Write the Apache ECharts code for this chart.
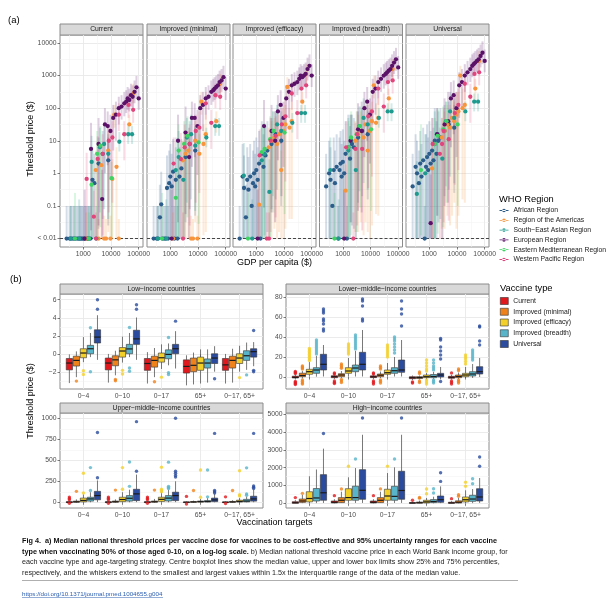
<!DOCTYPE html>
<html>
<head>
<meta charset="utf-8">
<script src="https://cdn.jsdelivr.net/npm/echarts@6/dist/echarts.min.js"></script>
<style>
html, body { margin: 0; padding: 0; background: #fff; }
#chart { width: 611px; height: 608px; }
</style>
</head>
<body>
<div id="chart"></div>
<script>
// ---------- panel (a) data ----------
const regionNames = ['African Region', 'Region of the Americas', 'South\u2212East Asian Region',
  'European Region', 'Eastern Mediterranean Region', 'Western Pacific Region'];
const regionColors = ['#2b5c8a', '#f7943c', '#1f9a8e', '#5a1167', '#3fd364', '#e0457b'];
const vaccineTypes = ['Current', 'Improved (minimal)', 'Improved (efficacy)', 'Improved (breadth)', 'Universal'];

// GDP per capita ($) and WHO region of every country
const countryGdp = [
  250, 320, 360, 420, 470, 520, 600, 680, 760, 830, 910, 1000, 1120, 1260, 1410, 1580, 1820, 2140, 2510, 3550, 5010, 7940,
  1260, 2820, 3550, 4470, 5620, 6610, 7940, 9550, 11200, 13200, 15800, 19100, 45700, 63100,
  355, 710, 1580, 2000, 2950, 3980, 5620, 7940, 20000, 41700, 57500,
  1120, 1900, 3550, 4790, 6030, 7590, 9550, 12000, 15100, 19100, 24000, 30200, 35500, 39800, 45700, 52500, 60300, 70800, 83200, 100000,
  500, 1580, 2000, 3160, 4170, 10500,
  1320, 2400, 2880, 3310, 5010, 8320, 11200, 19100, 30200, 42700, 63100
];
const countryRegion = [
  0, 0, 0, 0, 0, 0, 0, 0, 0, 0, 0, 0, 0, 0, 0, 0, 0, 0, 0, 0, 0, 0,
  1, 1, 1, 1, 1, 1, 1, 1, 1, 1, 1, 1, 1, 1,
  2, 2, 2, 2, 2, 2, 2, 2, 2, 2, 2,
  3, 3, 3, 3, 3, 3, 3, 3, 3, 3, 3, 3, 3, 3, 3, 3, 3, 3, 3, 3,
  4, 4, 4, 4, 4, 4,
  5, 5, 5, 5, 5, 5, 5, 5, 5, 5, 5
];

// log10 of the median threshold price ($); -2 sits on the "< 0.01" line
const logMedCurrent = [
  -2, -2, -2, -2, -2, -2, -2, -2, -2, -2, -2, -2, -2, -2, -2, -2, -2, -0.2, -0.3, 0.3, 0.6, 0.4,
  -2, 0.1, -2, 0.25, -2, -2, 0.7, -2, -0.17, 1.8, 0.2, -2, 1.5, 2.45,
  -2, -2, -2, 0.35, -2, 0.8, 0.9, 0.6, 0.97, 1.2, 1.2,
  -2, 0.75, 0.9, -0.79, 1.5, 1.45, 1.3, 1.7, 1.8, 2.0, 2.05, 2.15, 2.2, 2.3, 2.25, 2.4, 2.35, 2.5, 2.64, 2.3,
  -2, -2, -0.35, 0.6, 0.85, -0.15,
  -0.17, -1.33, -2, 0.44, 0.6, 1.0, 1.1, 1.8, 1.2, 2.1, 1.95
];
const logMedMinimal = [
  -2, -2, -2, -1.35, -0.95, -2, -2, -2, -0.45, -2, -0.3, -0.1, -0.4, 0.05, -2, -0.2, -2, -0.1, 0.15, 0.5, 0.9, 0.7,
  -2, 0.4, 0.6, 0.7, -2, -2, 1.0, -2, 0.6, 2.2, 0.9, 1.2, 1.6, 2.75,
  -2, -2, 0.1, 0.5, -0.2, 1.1, 1.2, 0.85, 1.1, 1.45, 1.45,
  -2, 1.0, 1.25, 0.5, 1.7, 1.7, 1.45, 2.0, 2.1, 2.3, 2.35, 2.5, 2.55, 2.6, 2.65, 2.7, 2.8, 2.85, 2.95, 2.6,
  -2, -0.75, 0.7, 0.9, 1.15, 0.95,
  0.3, 0.44, -2, 0.8, 0.9, 1.3, 1.4, 2.15, 1.55, 2.4, 2.35
];
const logMedEfficacy = [
  -2, -0.1, -0.45, -1.35, -0.2, -0.5, -0.1, -1.0, -0.3, 0.0, -0.4, 0.1, -0.2, 0.3, -2, 0.6, 0.2, 0.55, 0.7, 0.9, 1.2, 1.0,
  -0.96, 0.8, 1.0, 1.1, 0.9, 1.2, 0.1, 1.3, 1.5, 2.65, 1.4, 1.6, 2.2, 3.05,
  -0.07, -2, 0.4, 0.6, -0.57, 1.3, 1.5, 1.3, 1.55, 1.85, 1.85,
  -2, 1.45, 1.3, 1.0, 1.9, 2.1, 1.7, 2.3, 2.5, 2.7, 2.75, 2.8, 2.9, 3.0, 2.95, 3.0, 3.05, 3.2, 3.3, 3.0,
  -2, 0.65, 0.75, 1.05, 1.3, 1.25,
  0.55, -2, -2, 1.0, 1.15, 1.5, 1.75, 2.45, 1.85, 2.6, 2.7
];
const logMedBreadth = [
  -0.4, 0.0, -0.2, -1.0, 0.1, -0.3, 0.2, -2, 0.1, 0.3, -0.1, 0.35, 0.0, 0.6, -2, 0.8, 0.45, 0.9, 0.8, 1.1, 1.3, 1.2,
  -0.53, 1.0, 1.2, 1.3, 1.1, 1.5, 0.7, 1.3, 1.6, 2.7, 1.55, 1.7, 2.3, 3.2,
  0.1, -2, 0.7, 1.0, 0.1, 1.45, 1.7, 1.5, 1.7, 1.9, 1.9,
  -2, 1.0, 1.35, 1.3, 2.0, 2.2, 1.8, 2.5, 2.6, 2.8, 2.9, 3.0, 3.05, 3.1, 3.15, 3.2, 3.3, 3.4, 3.5, 3.25,
  -2, 0.8, 1.1, 1.2, 1.45, 1.35,
  0.8, -2, 0.75, 1.2, 0.75, 1.75, 1.9, 2.6, 2.05, 2.8, 2.85
];
const logMedUniversal = [
  -0.4, 0.2, 0.0, -0.3, 0.3, -0.1, 0.4, -2, 0.2, 0.5, 0.1, 0.6, 0.3, 0.7, 0.4, 1.0, 0.6, 1.0, 1.1, 1.3, 1.5, 1.4,
  0.15, 1.1, 1.3, 1.5, 1.4, 1.7, 1.6, 1.8, 1.9, 3.0, 2.0, 2.1, 2.6, 3.45,
  -0.63, 0.0, 0.9, 1.2, 0.45, 1.6, 1.9, 1.7, 1.9, 2.2, 2.2,
  -1.53, 1.2, 1.5, 1.6, 2.3, 2.4, 2.0, 2.7, 2.8, 3.0, 3.1, 3.2, 3.3, 3.35, 3.4, 3.45, 3.5, 3.6, 3.7, 3.45,
  0.1, 0.9, 1.15, 1.35, 1.6, 1.5,
  0.9, 0.6, 0.9, 1.3, 1.05, 1.85, 2.1, 2.75, 2.35, 3.05, 3.1
];
// decades of the 95% uncertainty range below / above the median
const spanDown = [
  3, 3, 3, 3, 3, 3, 3, 3, 3, 3, 3, 3, 3, 3, 3, 3, 3, 2.5, 2.5, 2, 2, 2,
  2.5, 2.8, 3, 2.8, 3, 3, 2.5, 3.5, 3.2, 0.4, 2.8, 3, 0.35, 0.3,
  3, 2, 3, 2.5, 3, 2, 2, 2, 0.3, 0.3, 0.3,
  1.5, 2.5, 2.5, 2.5, 1.5, 1.2, 1.5, 1, 0.8, 0.5, 0.4, 0.4, 0.35, 0.35, 0.35, 0.35, 0.35, 0.35, 0.35, 0.35,
  2, 3, 3, 3, 2.5, 2.5,
  3, 3, 3, 2.8, 2.5, 2.2, 2, 0.5, 0.8, 0.4, 0.4
];
const spanUp = [
  1, 1, 1, 1, 1, 1, 1, 1, 1, 1, 1, 1, 1, 1, 1, 1, 1, 0.9, 0.9, 0.8, 0.7, 0.7,
  0.8, 0.6, 0.6, 0.6, 0.7, 0.6, 0.6, 0.7, 0.6, 0.3, 0.6, 0.6, 0.3, 0.3,
  1, 1.2, 1, 0.8, 1, 0.6, 0.6, 0.6, 0.3, 0.25, 0.25,
  1.5, 0.8, 0.8, 0.9, 0.5, 0.45, 0.5, 0.4, 0.4, 0.35, 0.35, 0.35, 0.35, 0.35, 0.35, 0.35, 0.35, 0.35, 0.35, 0.35,
  1.4, 0.8, 0.8, 0.7, 0.6, 0.5,
  0.8, 0.8, 0.8, 0.7, 0.6, 0.5, 0.5, 0.35, 0.4, 0.35, 0.35
];
const facetMedians = [logMedCurrent, logMedMinimal, logMedEfficacy, logMedBreadth, logMedUniversal];

const gdpTicks = [1000, 10000, 100000];
const gdpMinor = [316, 3162, 31623];
const priceTicks = [0.01, 0.1, 1, 10, 100, 1000, 10000];
const priceMinor = [0.0316, 0.316, 3.16, 31.6, 316, 3162];

// ---------- panel (b) data ----------
const vaccineColors = ['#e0191e', '#f0821c', '#f4d02b', '#58b4c9', '#2b4c9e'];
const targetGroups = ['0\u22124', '0\u221210', '0\u221217', '65+', '0\u221217, 65+'];
const incomeGroups = ['Low\u2212income countries', 'Lower\u2212middle\u2212income countries',
  'Upper\u2212middle\u2212income countries', 'High\u2212income countries'];

// [lower whisker, Q1, median, Q3, upper whisker]; rows = vaccine type, columns = target group
const lowIncomeBoxes = [
  [[-3.15, -1.7, -0.95, -0.45, 0.0], [-3.1, -1.7, -0.95, -0.4, 0.05], [-3.2, -1.75, -1.0, -0.45, 0.25], [-3.4, -2.05, -1.32, -0.6, -0.1], [-3.2, -1.75, -1.15, -0.45, 0.05]],
  [[-2.5, -1.28, -0.66, -0.2, 0.33], [-2.3, -1.25, -0.6, -0.15, 0.4], [-2.5, -1.4, -0.66, -0.2, 0.7], [-3.3, -1.9, -1.2, -0.4, 0.2], [-3.1, -1.5, -0.66, -0.2, 0.62]],
  [[-0.85, -0.37, 0.15, 0.62, 1.9], [-0.9, -0.3, 0.37, 0.75, 1.95], [-1.6, -0.85, -0.37, 0.15, 1.1], [-3.2, -1.75, -0.95, -0.3, 0.55], [-1.9, -1.0, -0.4, 0.07, 0.95]],
  [[-0.3, 0.07, 0.62, 0.99, 2.35], [-0.3, 0.07, 0.6, 1.1, 2.35], [-1.2, -0.48, 0.0, 0.5, 1.2], [-3.1, -1.5, -0.95, -0.5, 0.55], [-1.7, -0.66, -0.15, 0.4, 1.3]],
  [[-0.6, 1.25, 1.9, 2.7, 4.3], [-0.6, 1.1, 1.7, 2.65, 4.05], [-1.55, 0.07, 0.62, 1.1, 2.55], [-1.9, -1.0, -0.4, 0.07, 0.9], [-1.3, -0.3, 0.3, 0.62, 1.35]]
];
const lowIncomeOutliers = [
  [[], [], [], [], []],
  [[-2.93], [-2.75, -2.9], [-3.0], [], []],
  [[-1.8, -2.2], [-1.75, -2.15], [-2.5], [], [-2.55]],
  [[2.93, -1.9], [2.95, -1.5, -1.85], [1.85, -2.0, -2.2], [], [-2.25]],
  [[6.0, 4.95], [5.45, 4.95], [3.65], [-2.67], [2.63, -1.75, -1.9]]
];
const lowerMiddleBoxes = [
  [[-2.5, -1, -0.3, 0.8, 2.5], [-2, -0.7, 0.3, 1.3, 2.5], [-2, -0.6, 0.2, 1.2, 2.5], [-3, -1.7, -0.7, 0.3, 1.5], [-2.5, -1.3, -0.3, 0.7, 2]],
  [[-1.5, 0.3, 1.5, 3.8, 6], [-1, 0.3, 2, 3.3, 6], [-1, 0.3, 1.8, 3, 5.5], [-2.5, -1.5, -0.5, 0.3, 1.5], [-2, -0.7, 0.5, 2, 4.5]],
  [[0.3, 2.7, 5.3, 7.7, 15], [0.3, 3.7, 6, 9.3, 19], [0.3, 2.7, 4.3, 7, 14], [-2, -0.7, 0.3, 2, 4], [-1, 0.3, 2, 3.7, 10]],
  [[0.3, 3.7, 7, 9.3, 21], [0.5, 5.3, 9, 12, 26], [0.5, 3.7, 6.3, 9.3, 20], [-2, -0.7, 0.5, 2.5, 5], [-1, 1, 3, 5.3, 13]],
  [[0.5, 7, 12.7, 22.7, 32], [0.5, 7, 12.7, 24.7, 47], [0.5, 4.7, 7, 17, 37], [-2.3, 0, 2, 3.7, 10], [0, 3, 5.3, 10.3, 19]]
];
const lowerMiddleOutliers = [
  [[5.5, 4.5, 3.5, -4.5, -5.5, -6.5, -7.5], [4, 3, -4, -5.5, -6.5], [4, 3, -4, -5.5, -7], [-5, -6], [4, -4, -5.5, -7]],
  [[11, 10, 9, 8, -3, -4.5, -6, -7], [13, 11.5, 10, 8.7, -2.5, -4, -5.5], [11, 9.5, 8, -3, -4.5, -6], [5, 3.5, -4, -5.5], [8, 6.5, -3, -4.5, -6]],
  [[28.5, 27, 25.5, 24, 22.5, 21, 19.5, 18, 16.5], [33, 31, 29, 27, 25, 23], [32, 30, 28, 26, 24, 22, 20], [17, 14, 11, 8, 6, -3, -5, -7], [22, 20, 18, 15.5, 13]],
  [[37, 35, 33, 31, 29, 27, 25, 23], [42, 40, 38, 36, 34, 32, 30, 28], [40, 38, 36, 33, 30, 27, 24], [17, 14, 11, 9, 7, -3, -4.5, -6], [27, 25, 23, 21, 19, 17]],
  [[68, 66, 64, 58, 56, 53, 48, 46], [78, 76, 71, 58, 56], [76, 68, 63, 51], [38.5, 37, 30, 26, 22, 18, -4.5], [51, 50, 36, 32]]
];
const upperMiddleBoxes = [
  [[-10, -3, 2, 6, 20], [-10, -3, 2, 6, 20], [-10, -3, 2, 6, 20], [-10, -3, 1, 4, 10], [-10, -3, 1, 4, 10]],
  [[-5, 2, 5, 14, 35], [-5, 2, 6, 15, 35], [-5, 2, 6, 15, 40], [-5, 1, 4, 8, 20], [-5, 1, 4, 10, 25]],
  [[0, 5, 22, 50, 95], [0, 8, 33, 60, 120], [0, 10, 35, 60, 120], [-3, 2, 8, 15, 40], [-3, 3, 10, 25, 50]],
  [[0, 14, 40, 60, 120], [0, 14, 48, 80, 150], [0, 15, 50, 80, 150], [0, 3, 10, 20, 50], [0, 5, 15, 35, 70]],
  [[2, 30, 80, 130, 260], [2, 20, 100, 155, 330], [2, 20, 80, 120, 250], [0, 8, 28, 50, 100], [0, 14, 40, 72, 150]]
];
const upperMiddleOutliers = [
  [[62, 45, 30, -12], [62, 45, 30, -12], [62, 45, 30, -12], [70, -20], [65, -15]],
  [[130], [145], [145], [140], [140]],
  [[345, 110], [413, 155], [418, 155, 140, 125], [385, 60], [375, 90, 75]],
  [[413, 140], [480, 190], [478, 190, 175, 165], [385, 65], [410, 100, 85]],
  [[830, 292], [960, 370], [1000, 370, 345, 320, 300], [820, 140, 125, 110], [820, 195, 180, 165]]
];
const highIncomeBoxes = [
  [[0, 5, 30, 90, 180], [0, 20, 60, 130, 230], [0, 20, 60, 130, 230], [0, 5, 15, 40, 80], [0, 5, 20, 60, 120]],
  [[10, 50, 130, 240, 470], [20, 40, 170, 320, 650], [20, 40, 170, 320, 650], [0, 10, 30, 70, 150], [0, 15, 60, 140, 300]],
  [[10, 80, 270, 650, 1520], [20, 170, 320, 820, 1460], [20, 170, 410, 790, 1700], [0, 20, 80, 170, 300], [10, 75, 200, 355, 730]],
  [[10, 130, 300, 830, 1900], [20, 170, 320, 960, 1980], [20, 170, 390, 955, 2020], [0, 40, 100, 210, 370], [10, 110, 240, 450, 800]],
  [[20, 170, 590, 1610, 3070], [20, 225, 730, 1890, 3850], [20, 225, 720, 1800, 3850], [10, 56, 200, 410, 950], [20, 130, 355, 820, 1420]]
];
const highIncomeOutliers = [
  [[320], [430], [430], [170], [260]],
  [[560], [800], [810], [330, 290], [480, 400]],
  [[], [2080], [2080], [800, 540], [1180, 960]],
  [[], [2490], [2490], [820, 580], [1380, 1100]],
  [[3920], [4790], [4790], [1720, 1230], [2600, 2080]]
];

// ---------- styling ----------
const FONT = '"Liberation Sans", Arial, Helvetica, sans-serif';
const BORDER = '#8c8c8c';
const STRIP_FILL = '#d9d9d9';
const dodge = [-0.36, -0.18, 0, 0.18, 0.36];
const boxWidth = 0.16;

const chart = echarts.init(document.getElementById('chart'));
const option = {
  animation: false,
  backgroundColor: '#fff',
  textStyle: { fontFamily: FONT },
  grid: [], xAxis: [], yAxis: [], series: [], graphic: [], legend: []
};

function signed(v) {
  return v < 0 ? '\u2212' + (-v) : String(v);
}

function minorAxis(gi, s, pos) {
  return {
    type: s.type, gridIndex: gi, position: pos, min: s.min, max: s.max,
    axisLine: { show: false }, axisLabel: { show: false },
    axisTick: { show: false, customValues: s.minor },
    splitLine: { show: s.minor.length > 0, lineStyle: { color: '#f3f3f3', width: 0.6 } }
  };
}

function majorAxis(gi, s, pos) {
  return {
    type: s.type, gridIndex: gi, position: pos, min: s.min, max: s.max,
    axisLine: { show: false },
    axisTick: { show: s.ticks !== false, customValues: s.major, length: 2.5, lineStyle: { color: '#444', width: 0.7 } },
    axisLabel: {
      show: s.ticks !== false, customValues: s.major, formatter: s.fmt,
      color: '#4d4d4d', fontSize: 6.8, fontFamily: FONT, margin: 3.5
    },
    splitLine: { show: true, lineStyle: { color: '#e9e9e9', width: 0.9 } }
  };
}

function addPanel(box, xs, ys, stripText, stripH) {
  const gi = option.grid.length;
  option.grid.push({
    left: box[0], top: box[1], width: box[2], height: box[3],
    show: true, borderColor: BORDER, borderWidth: 1, backgroundColor: '#fff'
  });
  option.xAxis.push(minorAxis(gi, xs, 'top'));
  option.yAxis.push(minorAxis(gi, ys, 'right'));
  option.xAxis.push(majorAxis(gi, xs, 'bottom'));
  option.yAxis.push(majorAxis(gi, ys, 'left'));
  option.graphic.push({
    type: 'rect', shape: { x: box[0], y: box[1] - stripH, width: box[2], height: stripH },
    style: { fill: STRIP_FILL, stroke: BORDER, lineWidth: 1 }
  });
  option.graphic.push({
    type: 'text', x: box[0] + box[2] / 2, y: box[1] - stripH / 2,
    style: { text: stripText, align: 'center', verticalAlign: 'middle', fontSize: 6.8, fill: '#1a1a1a', fontFamily: FONT }
  });
  return { x: option.xAxis.length - 1, y: option.yAxis.length - 1 };
}

// ---------- panel (a) ----------
const facetLeft = [60, 147, 233, 319.5, 406];
vaccineTypes.forEach((facet, fi) => {
  const ax = addPanel([facetLeft[fi], 35, 83, 212],
    { type: 'log', min: 144, max: 143000, major: gdpTicks, minor: gdpMinor, fmt: v => String(v) },
    { type: 'log', min: 0.0055, max: 17580, major: priceTicks, minor: priceMinor, ticks: fi === 0,
      fmt: v => (v === 0.01 ? '< 0.01' : String(v)) },
    facet, 11);
  regionNames.forEach((name, r) => {
    const bars = [], pts = [];
    countryGdp.forEach((g, i) => {
      if (countryRegion[i] !== r) return;
      const m = facetMedians[fi][i];
      bars.push([g, Math.pow(10, Math.max(-2, m - spanDown[i])), Math.pow(10, m + spanUp[i])]);
      pts.push([g, Math.pow(10, m)]);
    });
    const color = regionColors[r];
    option.series.push({
      type: 'custom', name: name, xAxisIndex: ax.x, yAxisIndex: ax.y, z: 2, silent: true, clip: true,
      encode: { x: 0, y: [1, 2] }, itemStyle: { color: color },
      renderItem: (params, api) => {
        const a = api.coord([api.value(0), api.value(1)]);
        const b = api.coord([api.value(0), api.value(2)]);
        return { type: 'line', shape: { x1: a[0], y1: a[1], x2: b[0], y2: b[1] },
          style: { stroke: color, lineWidth: 2, opacity: 0.2 } };
      },
      data: bars
    });
    const pointSeries = {
      type: 'scatter', name: name, xAxisIndex: ax.x, yAxisIndex: ax.y, z: 3, silent: true,
      symbolSize: 4.3, itemStyle: { color: color, opacity: 1 }, data: pts
    };
    if (r === 0) {
      pointSeries.markLine = {
        silent: true, symbol: 'none', z: 2, label: { show: false },
        lineStyle: { color: '#333', type: [3, 2], width: 0.9 },
        data: [{ yAxis: 0.01 }]
      };
    }
    option.series.push(pointSeries);
  });
});

// ---------- panel (b) ----------
const incomePanels = [
  { box: [60, 294, 203, 95], y: [-3.8, 6.63], major: [-2, 0, 2, 4, 6], minor: [-3, -1, 1, 3, 5], boxes: lowIncomeBoxes, out: lowIncomeOutliers },
  { box: [286, 294, 203, 95], y: [-12, 83], major: [0, 20, 40, 60, 80], minor: [-10, 10, 30, 50, 70], boxes: lowerMiddleBoxes, out: lowerMiddleOutliers },
  { box: [60, 413, 203, 95], y: [-68, 1063], major: [0, 250, 500, 750, 1000], minor: [125, 375, 625, 875], boxes: upperMiddleBoxes, out: upperMiddleOutliers },
  { box: [286, 413, 203, 95], y: [-264, 5073], major: [0, 1000, 2000, 3000, 4000, 5000], minor: [500, 1500, 2500, 3500, 4500], boxes: highIncomeBoxes, out: highIncomeOutliers }
];

function boxRenderer(t) {
  const color = vaccineColors[t];
  return (params, api) => {
    const x = api.value(0) + dodge[t];
    const half = api.size([boxWidth, 0])[0] / 2;
    const lo = api.coord([x, api.value(1)]);
    const q1 = api.coord([x, api.value(2)]);
    const md = api.coord([x, api.value(3)]);
    const q3 = api.coord([x, api.value(4)]);
    const hi = api.coord([x, api.value(5)]);
    return {
      type: 'group', children: [
        { type: 'line', shape: { x1: lo[0], y1: lo[1], x2: q1[0], y2: q1[1] }, style: { stroke: '#555', lineWidth: 0.8 } },
        { type: 'line', shape: { x1: q3[0], y1: q3[1], x2: hi[0], y2: hi[1] }, style: { stroke: '#555', lineWidth: 0.8 } },
        { type: 'rect', shape: { x: q3[0] - half, y: q3[1], width: half * 2, height: Math.max(0.6, q1[1] - q3[1]) },
          style: { fill: color, stroke: '#333', lineWidth: 0.6 } },
        { type: 'line', shape: { x1: md[0] - half, y1: md[1], x2: md[0] + half, y2: md[1] }, style: { stroke: '#1a1a1a', lineWidth: 1.2 } }
      ]
    };
  };
}

incomePanels.forEach((p, pi) => {
  const ax = addPanel(p.box,
    { type: 'value', min: 0.4, max: 5.6, major: [1, 2, 3, 4, 5], minor: [], fmt: v => targetGroups[Math.round(v) - 1] },
    { type: 'value', min: p.y[0], max: p.y[1], major: p.major, minor: p.minor, fmt: signed },
    incomeGroups[pi], 10);
  vaccineTypes.forEach((name, t) => {
    option.series.push({
      type: 'custom', name: name, xAxisIndex: ax.x, yAxisIndex: ax.y, z: 2, silent: true,
      encode: { x: 0, y: [1, 2, 3, 4, 5] }, itemStyle: { color: vaccineColors[t] },
      renderItem: boxRenderer(t),
      data: p.boxes[t].map((b, c) => [c + 1].concat(b))
    });
    const dots = [];
    p.out[t].forEach((vals, c) => vals.forEach(v => dots.push([c + 1 + dodge[t], v])));
    option.series.push({
      type: 'scatter', name: name, xAxisIndex: ax.x, yAxisIndex: ax.y, z: 3, silent: true,
      symbolSize: 3.4, itemStyle: { color: vaccineColors[t] }, data: dots
    });
  });
});

// ---------- legends ----------
const regionIcon = 'path://M0,1.6h9v0.8h-9z M2.7,2a1.8,1.8 0 1,0 3.6,0a1.8,1.8 0 1,0 -3.6,0z';
option.legend.push({
  orient: 'vertical', left: 499.5, top: 207, padding: 0, itemWidth: 9, itemHeight: 8, itemGap: 2.8,
  selectedMode: false,
  textStyle: { fontSize: 6.8, color: '#1a1a1a', fontFamily: FONT },
  data: regionNames.map((n, r) => ({ name: n, icon: regionIcon, itemStyle: { color: regionColors[r] } }))
});
option.legend.push({
  orient: 'vertical', left: 500, top: 297, padding: 0, itemWidth: 8, itemHeight: 7, itemGap: 2.75,
  selectedMode: false, icon: 'rect',
  textStyle: { fontSize: 6.8, color: '#1a1a1a', fontFamily: FONT, lineHeight: 8 },
  data: vaccineTypes.map((n, t) => ({ name: n, itemStyle: { color: vaccineColors[t], borderColor: '#333', borderWidth: 0.6 } }))
});

// ---------- titles, labels, caption ----------
function label(text, x, y, size, extra) {
  option.graphic.push(Object.assign({
    type: 'text', x: x, y: y,
    style: { text: text, fontSize: size, fill: '#000', fontFamily: FONT, align: 'left', verticalAlign: 'middle' }
  }, extra || {}));
}
label('(a)', 8, 20, 9.5);
label('(b)', 10, 279, 9.5);
label('WHO Region', 499, 199, 9.3);
label('Vaccine type', 500, 288, 9.3);
option.graphic.push(
  { type: 'text', x: 274.5, y: 263, style: { text: 'GDP per capita ($)', fontSize: 9, fill: '#000', fontFamily: FONT, align: 'center', verticalAlign: 'middle' } },
  { type: 'text', x: 274.5, y: 523, style: { text: 'Vaccination targets', fontSize: 9, fill: '#000', fontFamily: FONT, align: 'center', verticalAlign: 'middle' } },
  { type: 'text', x: 31, y: 139, rotation: Math.PI / 2, style: { text: 'Threshold price ($)', fontSize: 9, fill: '#000', fontFamily: FONT, align: 'center', verticalAlign: 'middle' } },
  { type: 'text', x: 31, y: 401, rotation: Math.PI / 2, style: { text: 'Threshold price ($)', fontSize: 9, fill: '#000', fontFamily: FONT, align: 'center', verticalAlign: 'middle' } }
);

const cap1 = 'Fig 4.  a) Median national threshold prices per vaccine dose for vaccines to be cost-effective and 95% uncertainty ranges for each vaccine';
const cap2b = 'type when vaccinating 50% of those aged 0-10, on a log-log scale.';
const cap2 = ' b) Median national threshold vaccine price in each World Bank income group, for';
const cap3 = 'each vaccine type and age-targeting strategy. Centre boxplot lines show the median value, upper and lower box limits show 25% and 75% percentiles,';
const cap4 = 'respectively, and the whiskers extend to the smallest and largest values within 1.5x the interquartile range of the data of the median value.';
option.graphic.push({
  type: 'text', x: 22, y: 535.8,
  style: {
    text: '{b|' + cap1 + '}\n{b|' + cap2b + '}{r|' + cap2 + '}\n{r|' + cap3 + '}\n{r|' + cap4 + '}',
    verticalAlign: 'top', align: 'left',
    rich: {
      b: { fontWeight: 'bold', fontSize: 7.25, lineHeight: 10.5, fill: '#111', fontFamily: FONT },
      r: { fontSize: 7.2, lineHeight: 10.5, fill: '#222', fontFamily: FONT }
    }
  }
});
option.graphic.push({ type: 'line', shape: { x1: 22, y1: 580.5, x2: 518, y2: 580.5 }, style: { stroke: '#9a9a9a', lineWidth: 0.8 } });
option.graphic.push({ type: 'text', x: 22, y: 594, style: { text: 'https://doi.org/10.1371/journal.pmed.1004655.g004', fontSize: 6.2, fill: '#2a5db0', fontFamily: FONT, align: 'left', verticalAlign: 'middle' } });
option.graphic.push({ type: 'line', shape: { x1: 22, y1: 597.5, x2: 163, y2: 597.5 }, style: { stroke: '#2a5db0', lineWidth: 0.5 } });

chart.setOption(option);
</script>
</body>
</html>
